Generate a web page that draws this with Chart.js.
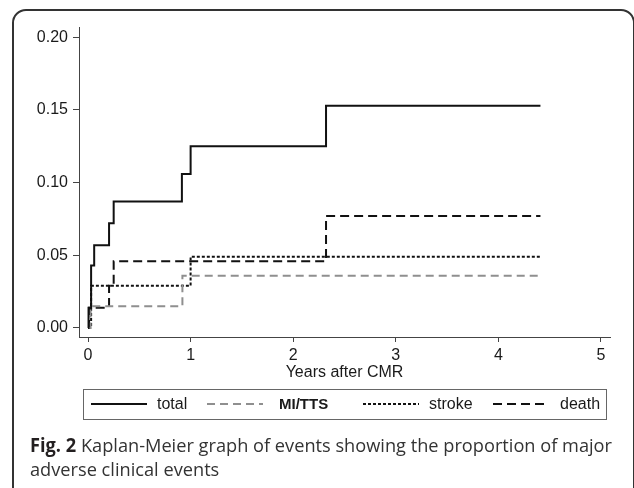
<!DOCTYPE html>
<html>
<head>
<meta charset="utf-8">
<script src="https://cdn.jsdelivr.net/npm/chart.js@4.4.0/dist/chart.umd.min.js"></script>
<style>
  body { margin: 0; background: #fff; width: 634px; height: 488px; overflow: hidden; position: relative; }
  .frame { position: absolute; left: 12px; top: 9px; width: 619px; height: 500px; border: 2px solid #333; border-radius: 14px; }
  .chart-box { position: absolute; left: 0; top: 0; width: 634px; height: 488px; }
  .caption { position: absolute; left: 30px; top: 433px; font-family: "Open Sans"; font-size: 19px; line-height: 24px; color: #333; white-space: nowrap; transform-origin: 0 0; }
  .caption b { color: #231f20; }
</style>
</head>
<body>
<div class="frame"></div>
<div class="chart-box"><canvas id="kmChart"></canvas></div>
<div class="caption" id="caption"><b>Fig. 2</b> Kaplan-Meier graph of events showing the proportion of major<br>adverse clinical events</div>
<script>
// Kaplan-Meier data (time in years, cumulative proportion)
var seriesNames = ["total", "MI/TTS", "stroke", "death"];
var totalTimes = [0, 0.005, 0.03, 0.06, 0.205, 0.25, 0.915, 1.0, 2.32, 4.41];
var totalValues = [0, 0.014, 0.043, 0.057, 0.072, 0.087, 0.106, 0.125, 0.153, 0.153];
var mittsTimes = [0, 0.025, 0.92, 4.41];
var mittsValues = [0, 0.015, 0.036, 0.036];
var strokeTimes = [0, 0.03, 1.0, 4.41];
var strokeValues = [0, 0.029, 0.049, 0.049];
var deathTimes = [0, 0.01, 0.205, 0.25, 2.32, 4.41];
var deathValues = [0, 0.014, 0.029, 0.046, 0.077, 0.077];
var xTicks = [0, 1, 2, 3, 4, 5];
var yTicks = [0, 0.05, 0.10, 0.15, 0.20];
var xAxisTitle = "Years after CMR";

function toPoints(times, values) {
  return times.map(function (t, i) {
    return { x: t, y: values[i] };
  });
}

// Boxed legend under the axis title
var boxLegend = {
  id: "boxLegend",
  afterDraw: function (chart) {
    var ctx = chart.ctx;
    var sampleX = [91, 207, 363, 493];
    var textX = [157, 279, 429, 560];
    var ly = 404;
    ctx.save();
    ctx.strokeStyle = "#666";
    ctx.lineWidth = 1;
    ctx.strokeRect(83.5, 389.5, 523, 30);
    chart.data.datasets.forEach(function (ds, i) {
      ctx.beginPath();
      ctx.setLineDash(ds.borderDash || []);
      ctx.strokeStyle = ds.borderColor;
      ctx.lineWidth = ds.borderWidth;
      ctx.moveTo(sampleX[i], ly);
      ctx.lineTo(sampleX[i] + 56, ly);
      ctx.stroke();
      ctx.setLineDash([]);
      ctx.fillStyle = "#1a1a1a";
      ctx.font = i === 1 ? "bold 15px 'Liberation Sans'" : "16px 'Liberation Sans'";
      ctx.textBaseline = "middle";
      ctx.fillText(ds.label, textX[i], ly + 1);
    });
    ctx.restore();
  }
};

var axisFont = { family: "'Liberation Sans', Arial, sans-serif", size: 16 };

var ctx = document.getElementById("kmChart").getContext("2d");
var kmChart = new Chart(ctx, {
  type: "line",
  data: {
    datasets: [
      { label: seriesNames[0], data: toPoints(totalTimes, totalValues), borderColor: "#111", borderWidth: 2, stepped: true },
      { label: seriesNames[1], data: toPoints(mittsTimes, mittsValues), borderColor: "#8f8f8f", borderWidth: 2, borderDash: [8, 5], stepped: true },
      { label: seriesNames[2], data: toPoints(strokeTimes, strokeValues), borderColor: "#111", borderWidth: 2, borderDash: [3, 2], stepped: true },
      { label: seriesNames[3], data: toPoints(deathTimes, deathValues), borderColor: "#111", borderWidth: 2, borderDash: [9, 5], stepped: true }
    ]
  },
  options: {
    responsive: true,
    maintainAspectRatio: false,
    animation: false,
    layout: { padding: { top: 27, right: 24, left: 0, bottom: 0 } },
    elements: { point: { radius: 0 }, line: { fill: false } },
    plugins: { legend: { display: false }, tooltip: { enabled: false } },
    scales: {
      x: {
        type: "linear",
        min: -0.088,
        max: 5.088,
        afterBuildTicks: function (scale) {
          scale.ticks = xTicks.map(function (v) { return { value: v }; });
        },
        afterFit: function (scale) { scale.height = 151; },
        ticks: { color: "#1a1a1a", font: axisFont, padding: 4, maxRotation: 0 },
        grid: { drawOnChartArea: false, drawTicks: true, tickLength: 5, color: "#444" },
        border: { display: true, color: "#444", width: 1 },
        title: { display: true, text: xAxisTitle, color: "#1a1a1a", font: axisFont, padding: { top: 0, bottom: 106 } }
      },
      y: {
        type: "linear",
        min: -0.0062,
        max: 0.2071,
        afterBuildTicks: function (scale) {
          scale.ticks = yTicks.map(function (v) { return { value: v }; });
        },
        afterFit: function (scale) { scale.width = 79; },
        ticks: {
          color: "#1a1a1a",
          font: axisFont,
          padding: 5,
          callback: function (v) { return v.toFixed(2); }
        },
        grid: { drawOnChartArea: false, drawTicks: true, tickLength: 6, color: "#444" },
        border: { display: true, color: "#444", width: 1 }
      }
    }
  },
  plugins: [boxLegend]
});

// fit caption line to the reference width
var cap = document.getElementById("caption");
var w = cap.getBoundingClientRect().width;
cap.style.transform = "scaleX(" + (582 / w) + ")";
</script>
</body>
</html>
